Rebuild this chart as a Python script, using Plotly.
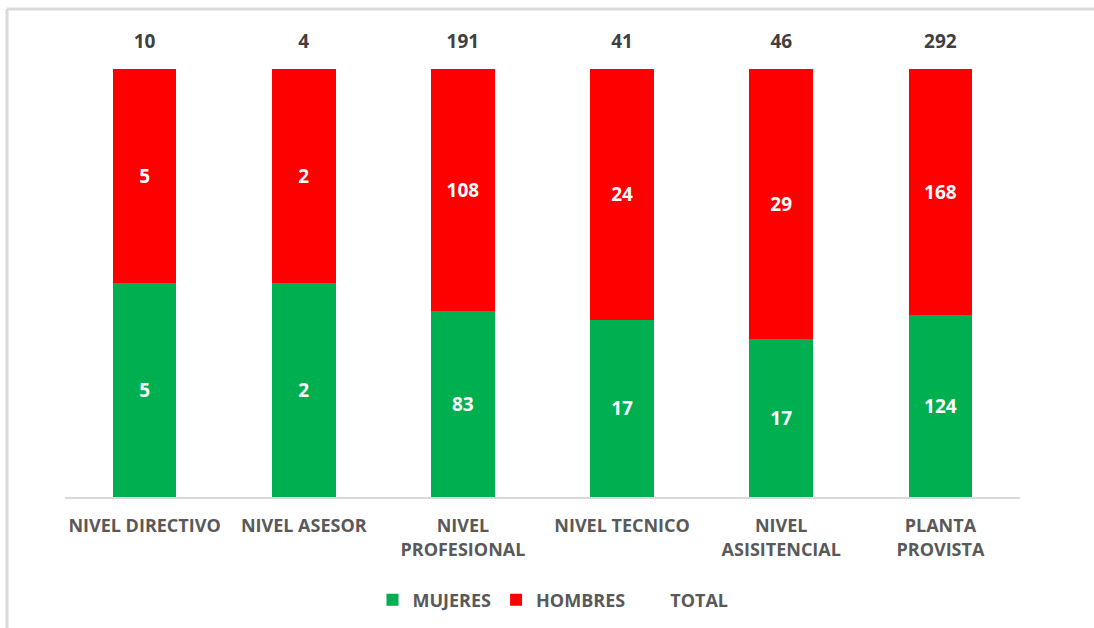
import plotly.graph_objects as go

# Staff distribution by level (headcount)
categories = [
    "NIVEL DIRECTIVO",
    "NIVEL ASESOR",
    "NIVEL<br>PROFESIONAL",
    "NIVEL TECNICO",
    "NIVEL<br>ASISITENCIAL",
    "PLANTA<br>PROVISTA",
]
mujeres = [5, 2, 83, 17, 17, 124]
hombres = [5, 2, 108, 24, 29, 168]
totales = [10, 4, 191, 41, 46, 292]

GREEN = "#00B050"
RED = "#FF0000"
FONT = "Open Sans"

fig = go.Figure()

fig.add_trace(go.Bar(
    name="MUJERES", x=categories, y=mujeres,
    marker=dict(color=GREEN, line=dict(width=0)),
    text=mujeres, textposition="inside", insidetextanchor="middle",
    textfont=dict(color="white", size=19, family=FONT, weight="bold"),
    textangle=0,
))
fig.add_trace(go.Bar(
    name="HOMBRES", x=categories, y=hombres,
    marker=dict(color=RED, line=dict(width=0)),
    text=hombres, textposition="inside", insidetextanchor="middle",
    textfont=dict(color="white", size=19, family=FONT, weight="bold"),
    textangle=0,
))
# Totals sit above the full (100%) stack
fig.add_trace(go.Scatter(
    name="TOTAL", x=categories, y=[100] * len(totales),
    mode="markers+text",
    marker=dict(size=24, color="rgba(0,0,0,0)"),
    text=totales, textposition="top center",
    textfont=dict(color="#404040", size=19, family=FONT, weight="bold"),
    cliponaxis=False,
    hoverinfo="skip",
))

# Frame around the chart (left and top edges visible)
L, R, T, B = 65, 74, 69, 131
W, H = 1094, 628
pw, ph = W - L - R, H - T - B


def px_x(px):
    return (px - L) / pw


def px_y(py):
    return (H - B - py) / ph


frame = dict(color="#d9d9d9", width=3)
fig.add_shape(type="line", xref="paper", yref="paper",
              x0=px_x(7), x1=px_x(1100), y0=px_y(9), y1=px_y(9), line=frame)
fig.add_shape(type="line", xref="paper", yref="paper",
              x0=px_x(7), x1=px_x(7), y0=px_y(9), y1=px_y(640), line=frame)

fig.update_layout(
    width=W, height=H,
    margin=dict(l=L, r=R, t=T, b=B, autoexpand=False),
    barmode="stack", barnorm="percent", bargap=0.6,
    plot_bgcolor="white", paper_bgcolor="white",
    font=dict(family=FONT, color="#595959"),
    showlegend=True,
    legend=dict(
        orientation="h", x=px_x(553), y=px_y(600),
        xanchor="center", yanchor="middle",
        font=dict(size=18, family=FONT, color="#595959", weight="bold"),
        itemwidth=30, traceorder="normal",
    ),
    xaxis=dict(
        showline=True, linecolor="#d9d9d9", linewidth=1.5,
        showgrid=False, ticks="", ticklabelstandoff=12, automargin=False,
        tickfont=dict(size=18, family=FONT, color="#595959", weight="bold"),
    ),
    yaxis=dict(visible=False, range=[0, 100], showgrid=False, automargin=False),
)

fig.write_html("out.html")
